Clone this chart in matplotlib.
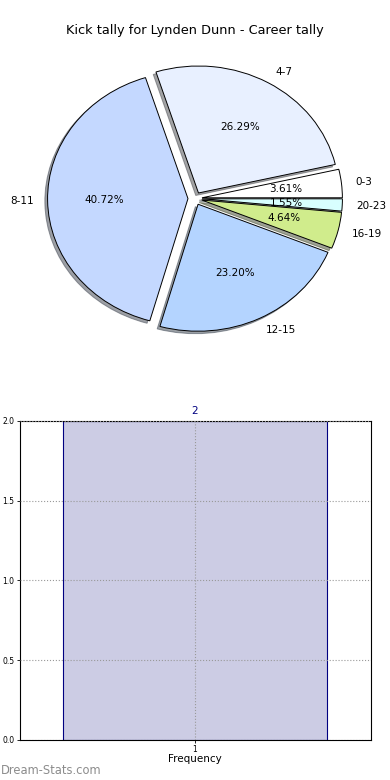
import matplotlib
matplotlib.use('Agg')
import matplotlib.pyplot as plt

# pie data (kick count buckets, career tally)
buckets = ['0-3', '4-7', '8-11', '12-15', '16-19', '20-23']
counts = [7, 51, 79, 45, 9, 3]
colors = ['#ffffff', '#e8f0ff', '#c4d8ff', '#b4d4ff', '#d0ec8c', '#d8ffff']

# bar data (frequency)
freq_x = [1]
freq_y = [2]

fig = plt.figure(figsize=(3.9, 7.8), dpi=100)

ax1 = fig.add_axes([0.05, 0.542, 0.9, 0.407])
wedges, texts, autotexts = ax1.pie(counts, labels=buckets, colors=colors,
                                   explode=[0.05] * len(counts),
                                   shadow={'ox': -0.014, 'oy': -0.014, 'shade': 0.7},
                                   autopct='%1.2f%%', startangle=0,
                                   wedgeprops={'edgecolor': 'black', 'linewidth': 0.7},
                                   textprops={'fontsize': 7.5})
ax1.set_aspect('auto')
ax1.set_xlim(-1.25, 1.25)
ax1.set_ylim(-1.25, 1.25)
fig.text(0.5, 0.961, 'Kick tally for Lynden Dunn - Career tally', ha='center', va='center', fontsize=9.3)

ax2 = fig.add_axes([0.05, 0.0513, 0.9, 0.409])
bars = ax2.bar(freq_x, freq_y, width=0.75, color='#ccccE4', edgecolor='#000080', linewidth=0.8, zorder=2)
ax2.set_xlim(0.5, 1.5)
ax2.set_ylim(0, 2.0)
ax2.set_xticks(freq_x)
ax2.set_yticks([0.0, 0.5, 1.0, 1.5, 2.0])
ax2.set_yticklabels(['0.0', '0.5', '1.0', '1.5', '2.0'])
ax2.tick_params(labelsize=5.5, length=2, width=0.6, pad=1.5)
ax2.grid(True, linestyle=':', color='#999999', linewidth=0.8, zorder=3)
ax2.set_axisbelow(False)
ax2.set_xlabel('Frequency', fontsize=7.5, labelpad=0)
for b, v in zip(bars, freq_y):
    ax2.text(b.get_x() + b.get_width() / 2, v + 0.03, str(v), ha='center', va='bottom',
             fontsize=7.5, color='#000080')

fig.text(0.003, 0.008, 'Dream-Stats.com', fontsize=8.3, color='#8c8c8c')

fig.savefig('out.png', dpi=100)
